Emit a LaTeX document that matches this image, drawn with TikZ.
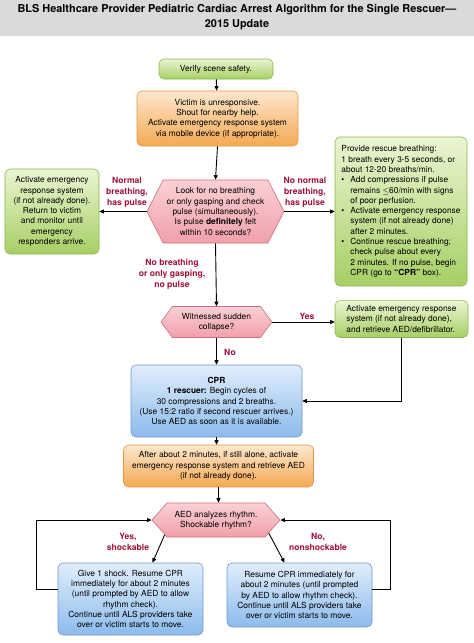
\documentclass[tikz,border=0pt]{standalone}
\usepackage{fontspec}
\setmainfont{TeX Gyre Heros}
\usetikzlibrary{shapes.symbols}
\usetikzlibrary{arrows.meta}
\usetikzlibrary{calc}

\definecolor{titlegray}{RGB}{218,218,218}
\definecolor{labelred}{RGB}{158,16,54}
\definecolor{greenTop}{RGB}{234,245,210}
\definecolor{greenBot}{RGB}{166,207,100}
\definecolor{greenLine}{RGB}{138,182,78}
\definecolor{orangeTop}{RGB}{253,231,205}
\definecolor{orangeBot}{RGB}{244,168,82}
\definecolor{orangeLine}{RGB}{230,150,70}
\definecolor{pinkTop}{RGB}{250,208,212}
\definecolor{pinkBot}{RGB}{240,160,170}
\definecolor{pinkLine}{RGB}{205,110,122}
\definecolor{blueTop}{RGB}{224,237,251}
\definecolor{blueBot}{RGB}{140,187,236}
\definecolor{blueLine}{RGB}{110,152,204}

\tikzset{
  box/.style={rounded corners=5pt, line width=0.6pt, align=center, inner sep=2pt,
    font=\fontsize{8.4}{10.3}\selectfont},
  greenbox/.style={box, draw=greenLine, top color=greenTop, bottom color=greenBot},
  orangebox/.style={box, draw=orangeLine, top color=orangeTop, bottom color=orangeBot},
  bluebox/.style={box, draw=blueLine, top color=blueTop, bottom color=blueBot},
  hexbox/.style={signal, signal to=east and west, signal from=nowhere, line width=0.6pt,
    draw=pinkLine, top color=pinkTop, bottom color=pinkBot, align=center, inner sep=0pt,
    font=\fontsize{8.4}{10.3}\selectfont},
  redlabel/.style={text=labelred, align=center, inner sep=0pt,
    font=\bfseries\fontsize{8.6}{10.8}\selectfont},
  link/.style={-{Triangle[length=4.5pt,width=4pt]}, line width=0.9pt},
  wire/.style={line width=0.9pt}
}

\newcommand{\bul}{\makebox[9pt][l]{\textbullet}}
\newcommand{\ind}{\hspace*{9pt}}

\begin{document}
\begin{tikzpicture}[x=1pt,y=-1pt]
\useasboundingbox (0,0) rectangle (474,643);

%Shape: Title band
\fill[titlegray] (0,0) rectangle (474,36);
% Text Node
\node (title) [inner sep=0pt, align=center, font=\bfseries\fontsize{10.9}{15}\selectfont] at (237,17)
  {BLS Healthcare Provider Pediatric Cardiac Arrest Algorithm for the Single Rescuer—\\2015 Update};

%Shape: Boxes
\node (safety) [greenbox, minimum width=114, minimum height=20] at (216,69) {Verify scene safety.};
\node (victim) [orangebox, minimum width=161, minimum height=55] at (217.5,118.5)
  {Victim is unresponsive.\\Shout for nearby help.\\Activate emergency response system\\via mobile device (if appropriate).};
\node (check) [hexbox, minimum width=137, minimum height=63, signal pointer angle=126] at (215.5,211.5)
  {Look for no breathing\\or only gasping and check\\pulse (simultaneously).\\Is pulse \textbf{definitely} felt\\within 10 seconds?};
\node (monitor) [greenbox, minimum width=94, minimum height=85] at (52,211.5)
  {Activate emergency\\response system\\(if not already done).\\Return to victim\\and monitor until\\emergency\\responders arrive.};
\node (rescue) [greenbox, minimum width=132, minimum height=149, align=left, inner sep=5pt] at (401,211.5)
  {Provide rescue breathing:\\1 breath every 3-5 seconds, or\\about 12-20 breaths/min.\\
   \bul Add compressions if pulse\\\ind remains $\leq$60/min with signs\\\ind of poor perfusion.\\
   \bul Activate emergency response\\\ind system (if not already done)\\\ind after 2 minutes.\\
   \bul Continue rescue breathing;\\\ind check pulse about every\\\ind 2 minutes. If no pulse, begin\\\ind CPR (go to \textbf{“CPR”} box).};
\node (witness) [hexbox, minimum width=111, minimum height=31, signal pointer angle=107] at (216.5,322)
  {Witnessed sudden\\collapse?};
\node (retrieve) [greenbox, minimum width=133, minimum height=32, align=left, inner sep=5pt] at (401.5,319)
  {Activate emergency response\\system (if not already done),\\and retrieve AED/defibrillator.};
\node (cpr) [bluebox, minimum width=171, minimum height=72] at (216.5,401)
  {\textbf{CPR}\\\textbf{1 rescuer:} Begin cycles of\\30 compressions and 2 breaths.\\(Use 15:2 ratio if second rescuer arrives.)\\Use AED as soon as it is available.};
\node (alone) [orangebox, minimum width=190, minimum height=42] at (218.5,466)
  {After about 2 minutes, if still alone, activate\\emergency response system and retrieve AED\\(if not already done).};
\node (rhythm) [hexbox, minimum width=128, minimum height=34, signal pointer angle=97] at (216,520)
  {AED analyzes rhythm.\\Shockable rhythm?};
\node (shock) [bluebox, minimum width=145, minimum height=72] at (130.5,599)
  {Give 1 shock. Resume CPR\\immediately for about 2 minutes\\(until prompted by AED to allow\\rhythm check).\\Continue until ALS providers take\\over or victim starts to move.};
\node (noshock) [bluebox, minimum width=145, minimum height=64] at (299.5,595)
  {Resume CPR immediately for\\about 2 minutes (until prompted\\by AED to allow rhythm check).\\Continue until ALS providers take\\over or victim starts to move.};

%Shape: Connectors
\draw[link] (safety) -- (victim);
\draw[link] (victim.south) -- (check.north);
\draw[link] (check.west) -- (monitor.east);
\draw[link] (check.east) -- (check.east -| rescue.west);
\draw[link] (check.south) -- (witness.north);
\draw[link] (witness.east) -- (witness.east -| retrieve.west);
\draw[link] (witness.south) -- (cpr.north);
\draw[link] (retrieve.south) |- (cpr.east);
\draw[link] (cpr.south) -- (cpr.south |- alone.north);
\draw[link] (alone.south) -- (alone.south |- rhythm.north);
\draw[link] (rhythm.196) -- ($(shock.north)+(22,0)$);
\draw[link] (rhythm.346) -- ($(noshock.north)+(-15,0)$);
\draw[link] ($(shock.west)+(0,-10)$) -- ++(-21,0) |- (rhythm.west);
\draw[link] ($(noshock.east)+(0,-6)$) -- ++(18,0) |- (rhythm.east);

% Text Node
\node (lblnormal) [redlabel] at (127,192) {Normal\\breathing,\\has pulse};
% Text Node
\node (lblnonormal) [redlabel] at (305,192) {No normal\\breathing,\\has pulse};
% Text Node
\node (lblgasp) [redlabel] at (172,274) {No breathing\\or only gasping,\\no pulse};
% Text Node
\node (lblyes) [redlabel] at (307,316) {Yes};
% Text Node
\node (lblno) [redlabel] at (230,352) {No};
% Text Node
\node (lblshock) [redlabel] at (128,542) {Yes,\\shockable};
% Text Node
\node (lblnoshock) [redlabel] at (318,542) {No,\\nonshockable};

\end{tikzpicture}
\end{document}
